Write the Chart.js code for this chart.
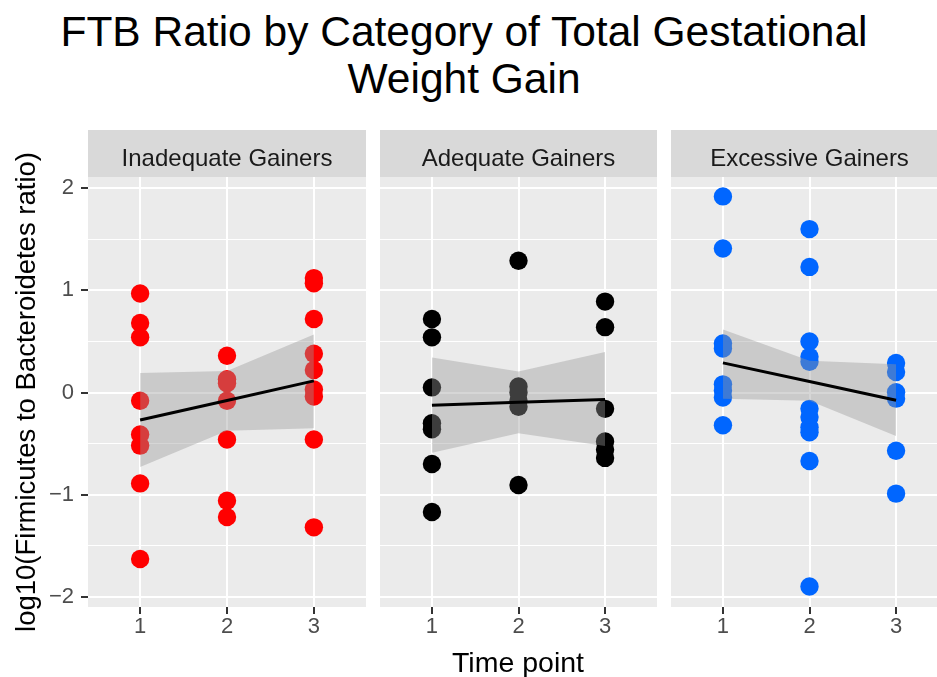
<!DOCTYPE html>
<html>
<head>
<meta charset="utf-8">
<script src="https://cdn.jsdelivr.net/npm/chart.js@4/dist/chart.umd.min.js"></script>
<style>
  html, body { margin: 0; padding: 0; }
  body { width: 937px; height: 677px; overflow: hidden; background: #fff; position: relative;
         font-family: "Liberation Sans", Arial, sans-serif; }
  .title { position: absolute; left: 0; top: 8px; width: 928px; text-align: center;
           font-size: 42.5px; line-height: 47px; color: #000; }
  .xtitle { position: absolute; left: 318px; width: 400px; top: 646px; text-align: center;
            font-size: 28.5px; line-height: 32px; color: #000; }
  .panel { position: absolute; top: 130px; }
</style>
</head>
<body>
<div class="title">FTB Ratio by Category of Total Gestational<br>Weight Gain</div>
<div class="panel" style="left:0px;"><canvas id="p1" width="366" height="547"></canvas></div>
<div class="panel" style="left:380px;"><canvas id="p2" width="277" height="547"></canvas></div>
<div class="panel" style="left:671px;"><canvas id="p3" width="277" height="547"></canvas></div>
<div class="xtitle">Time point</div>
<script>
// ---- data ----
const timePoints = [1, 2, 3];
const timeLabels = ["1", "2", "3"];
const yMajorTicks = [-2, -1, 0, 1, 2];
const yTickLabels = ["\u22122", "\u22121", "0", "1", "2"];
const yMinorTicks = [-1.5, -0.5, 0.5, 1.5];
const panelNames = ["Inadequate Gainers", "Adequate Gainers", "Excessive Gainers"];
const yAxisTitle = "log10(Firmicutes to Bacteroidetes ratio)";

// Inadequate gainers (red)
const inadequateT1 = [0.97, 0.68, 0.54, -0.08, -0.41, -0.52, -0.89, -1.63];
const inadequateT2 = [0.36, 0.13, 0.09, -0.08, -0.46, -1.06, -1.22];
const inadequateT3 = [1.12, 1.07, 0.72, 0.38, 0.22, 0.03, -0.04, -0.46, -1.32];
const inadequateFit = [-0.27, -0.078, 0.114];
const inadequateLower = [-0.73, -0.375, -0.35];
const inadequateUpper = [0.19, 0.21, 0.567];

// Adequate gainers (black)
const adequateT1 = [0.72, 0.54, 0.05, -0.30, -0.36, -0.70, -1.17];
const adequateT2 = [1.29, 0.06, 0.0, -0.08, -0.14, -0.905];
const adequateT3 = [0.89, 0.64, -0.16, -0.48, -0.56, -0.64];
const adequateFit = [-0.124, -0.096, -0.068];
const adequateLower = [-0.59, -0.40, -0.524];
const adequateUpper = [0.342, 0.205, 0.397];

// Excessive gainers (blue)
const excessiveT1 = [1.92, 1.41, 0.48, 0.43, 0.08, 0.02, -0.05, -0.32];
const excessiveT2 = [1.60, 1.23, 0.50, 0.35, 0.30, -0.16, -0.24, -0.34, -0.39, -0.67, -1.90];
const excessiveT3 = [0.29, 0.20, 0.003, -0.06, -0.57, -0.99];
const excessiveFit = [0.29, 0.108, -0.075];
const excessiveLower = [-0.06, -0.08, -0.427];
const excessiveUpper = [0.616, 0.31, 0.277];

// ---- drawing ----
const FONT = '"Liberation Sans", Arial, sans-serif';

const panelPlugin = {
  id: 'panelDecor',
  beforeDraw(chart, args, opts) {
    const { ctx, chartArea: a } = chart;
    ctx.save();
    ctx.fillStyle = '#ebebeb';
    ctx.fillRect(a.left, a.top, a.right - a.left, a.bottom - a.top);
    ctx.fillStyle = '#d9d9d9';
    ctx.fillRect(a.left, 0, a.right - a.left, a.top);
    ctx.fillStyle = '#1a1a1a';
    ctx.font = '24px ' + FONT;
    ctx.textAlign = 'center';
    ctx.textBaseline = 'alphabetic';
    ctx.fillText(opts.label, (a.left + a.right) / 2, 36);
    ctx.restore();
  }
};

function pts(x, arr) { return arr.map(y => ({ x: x, y: y })); }
function curve(arr) { return timePoints.map((x, i) => ({ x: x, y: arr[i] })); }

function makePanel(id, name, color, t1, t2, t3, fit, lower, upper, showY) {
  const isMajor = v => yMajorTicks.indexOf(v) >= 0;
  new Chart(document.getElementById(id), {
    type: 'scatter',
    data: {
      datasets: [
        { type: 'line', data: curve(fit), borderColor: '#000', borderWidth: 3,
          pointRadius: 0, fill: false, order: 0 },
        { type: 'line', data: curve(upper), borderWidth: 0, borderColor: 'rgba(0,0,0,0)',
          pointRadius: 0, fill: '+1', backgroundColor: 'rgba(153,153,153,0.4)', order: 1 },
        { type: 'line', data: curve(lower), borderWidth: 0, borderColor: 'rgba(0,0,0,0)',
          pointRadius: 0, fill: false, order: 2 },
        { data: pts(1, t1).concat(pts(2, t2), pts(3, t3)), backgroundColor: color,
          borderWidth: 0, pointRadius: 9.2, order: 3 }
      ]
    },
    options: {
      responsive: false, animation: false, events: [],
      layout: { autoPadding: false, padding: { top: 47, left: 0, right: 0, bottom: 0 } },
      plugins: { legend: { display: false }, tooltip: { enabled: false },
                 panelDecor: { label: name } },
      scales: {
        x: {
          type: 'linear', min: 0.4, max: 3.6,
          afterBuildTicks: s => { s.ticks = timePoints.map(v => ({ value: v })); },
          afterFit: s => { s.height = 70; },
          border: { display: false },
          grid: { color: '#ffffff', lineWidth: 2, drawTicks: true, tickLength: 7,
                  tickColor: '#333333', tickWidth: 2 },
          ticks: { color: '#4d4d4d', font: { size: 22, family: FONT }, padding: 0,
                   maxRotation: 0, autoSkip: false,
                   callback: v => timeLabels[timePoints.indexOf(v)] }
        },
        y: {
          type: 'linear', min: -2.1, max: 2.11,
          afterBuildTicks: s => {
            s.ticks = yMinorTicks.concat(yMajorTicks).map(v => ({ value: v }));
          },
          afterFit: s => { s.width = showY ? 88 : 0; },
          border: { display: false },
          grid: {
            color: '#ffffff',
            lineWidth: c => (isMajor(c.tick.value) ? 2 : 1),
            drawTicks: showY, tickLength: 7, tickWidth: 2,
            tickColor: c => (isMajor(c.tick.value) ? '#333333' : 'rgba(0,0,0,0)')
          },
          ticks: {
            display: showY, color: '#4d4d4d', font: { size: 22, family: FONT }, padding: 7,
            autoSkip: false,
            callback: v => { const i = yMajorTicks.indexOf(v); return i >= 0 ? yTickLabels[i] : ''; }
          },
          title: { display: showY, text: yAxisTitle, color: '#000',
                   font: { size: 27.5, family: FONT }, padding: { top: 11, bottom: 0 } }
        }
      }
    },
    plugins: [panelPlugin]
  });
}

makePanel('p1', panelNames[0], '#ff0000', inadequateT1, inadequateT2, inadequateT3,
          inadequateFit, inadequateLower, inadequateUpper, true);
makePanel('p2', panelNames[1], '#000000', adequateT1, adequateT2, adequateT3,
          adequateFit, adequateLower, adequateUpper, false);
makePanel('p3', panelNames[2], '#0066ff', excessiveT1, excessiveT2, excessiveT3,
          excessiveFit, excessiveLower, excessiveUpper, false);
</script>
</body>
</html>
